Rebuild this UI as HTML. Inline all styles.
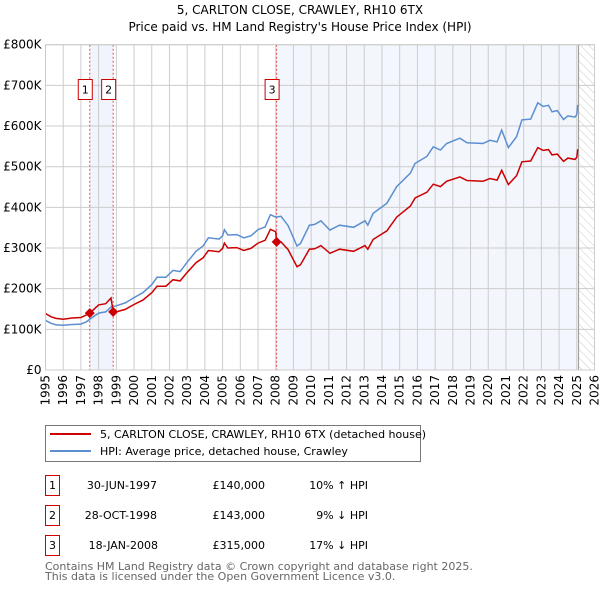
<!DOCTYPE html>
<html><head><meta charset="utf-8">
<style>
body{margin:0;background:#fff;}
svg{display:block;font-family:"DejaVu Sans","Liberation Sans",sans-serif;}
</style></head>
<body>
<svg id="chart" width="600" height="590" viewBox="0 0 600 590" xmlns="http://www.w3.org/2000/svg">
<text x="300" y="14" text-anchor="middle" font-size="12" fill="#000">5, CARLTON CLOSE, CRAWLEY, RH10 6TX</text>
<text x="300" y="31" text-anchor="middle" font-size="12" fill="#000">Price paid vs. HM Land Registry's House Price Index (HPI)</text>
<g id="plot"></g>
<g>
<rect x="45.5" y="425.5" width="375" height="36" fill="#fff" stroke="#777"/>
<line x1="50" y1="434" x2="91" y2="434" stroke="#cc0000" stroke-width="2"/>
<text x="100" y="438" font-size="11">5, CARLTON CLOSE, CRAWLEY, RH10 6TX (detached house)</text>
<line x1="50" y1="451" x2="91" y2="451" stroke="#5b8fd0" stroke-width="2"/>
<text x="100" y="455" font-size="11">HPI: Average price, detached house, Crawley</text>
</g>
<g font-size="11">
<rect x="45.5" y="475.5" width="14" height="20" fill="#fff" stroke="#cc0000"/>
<text x="52.5" y="489" text-anchor="middle">1</text>
<text x="157" y="489" text-anchor="end">30-JUN-1997</text>
<text x="265" y="489" text-anchor="end">£140,000</text>
<text x="368" y="489" text-anchor="end">10% ↑ HPI</text>
<rect x="45.5" y="505.5" width="14" height="20" fill="#fff" stroke="#cc0000"/>
<text x="52.5" y="519" text-anchor="middle">2</text>
<text x="157" y="519" text-anchor="end">28-OCT-1998</text>
<text x="265" y="519" text-anchor="end">£143,000</text>
<text x="368" y="519" text-anchor="end">9% ↓ HPI</text>
<rect x="45.5" y="535.5" width="14" height="20" fill="#fff" stroke="#cc0000"/>
<text x="52.5" y="549" text-anchor="middle">3</text>
<text x="158" y="549" text-anchor="end">18-JAN-2008</text>
<text x="265" y="549" text-anchor="end">£315,000</text>
<text x="368" y="549" text-anchor="end">17% ↓ HPI</text>
</g>
<text x="45" y="570" font-size="11" fill="#666">Contains HM Land Registry data © Crown copyright and database right 2025.</text>
<text x="45" y="580" font-size="11" fill="#666">This data is licensed under the Open Government Licence v3.0.</text>
</svg>
<script>
const hpiYears=[1995.0,1995.3,1995.6,1996.0,1996.5,1997.0,1997.3,1997.6,1998.0,1998.4,1998.7,1999.0,1999.5,2000.0,2000.5,2001.0,2001.3,2001.8,2002.2,2002.6,2003.0,2003.5,2003.9,2004.2,2004.8,2005.0,2005.1,2005.3,2005.8,2006.2,2006.6,2007.0,2007.4,2007.7,2008.0,2008.3,2008.7,2009.2,2009.4,2009.9,2010.2,2010.55,2011.06,2011.6,2012.4,2013.04,2013.2,2013.5,2014.27,2014.83,2015.6,2015.87,2016.53,2016.9,2017.3,2017.65,2018.4,2018.8,2019.7,2020.1,2020.5,2020.76,2021.14,2021.6,2021.9,2022.4,2022.8,2023.1,2023.4,2023.6,2023.9,2024.25,2024.5,2024.9,2025.0,2025.05];
const hpiValues=[122,115,111,110,112,113,118,128,140,143,155,158,165,178,190,210,228,228,245,242,265,292,305,325,322,330,345,332,333,325,330,345,352,382,376,378,355,305,311,356,358,367,344,356,351,367,356,385,410,451,484,508,525,549,541,557,570,559,557,565,561,590,547,574,615,617,657,648,651,635,638,616,625,622,628,652];
const propYears=[1995.0,1995.3,1995.6,1996.0,1996.5,1997.0,1997.3,1997.5,1998.0,1998.4,1998.7,1998.82,1999.0,1999.5,2000.0,2000.5,2001.0,2001.3,2001.8,2002.2,2002.6,2003.0,2003.5,2003.9,2004.2,2004.8,2005.0,2005.1,2005.3,2005.8,2006.2,2006.6,2007.0,2007.4,2007.7,2008.0,2008.05,2008.3,2008.7,2009.2,2009.4,2009.9,2010.2,2010.55,2011.06,2011.6,2012.4,2013.04,2013.2,2013.5,2014.27,2014.83,2015.6,2015.87,2016.53,2016.9,2017.3,2017.65,2018.4,2018.8,2019.7,2020.1,2020.5,2020.76,2021.14,2021.6,2021.9,2022.4,2022.8,2023.1,2023.4,2023.6,2023.9,2024.25,2024.5,2024.9,2025.0,2025.05];
const propValues=[139,131,127,125,128,129,135,140,160,163,177,143,143,149,161,172,190,206,206,222,219,240,264,276,294,291,299,312,300,301,294,299,312,319,346,340,315,315,296,254,259,297,298,306,287,297,292,306,297,321,342,376,403,423,437,457,451,464,475,466,464,471,467,491,456,478,512,514,547,540,542,529,531,513,521,518,523,543];
const saleLabels=["1","2","3"];
const saleYears=[1997.5,1998.82,2008.05];
const salePrices=[140,143,315];
const yTicks=[0,100,200,300,400,500,600,700,800];
const yTickLabels=["£0","£100K","£200K","£300K","£400K","£500K","£600K","£700K","£800K"];
const xTicks=[1995,1996,1997,1998,1999,2000,2001,2002,2003,2004,2005,2006,2007,2008,2009,2010,2011,2012,2013,2014,2015,2016,2017,2018,2019,2020,2021,2022,2023,2024,2025,2026];
const dataEnd=2025.1;

const NS="http://www.w3.org/2000/svg";
const X0=45.5,X1=594.5,Y0=370,Y1=44.7;
const xs=y=>X0+(y-1995)/(2026-1995)*(X1-X0);
const ys=v=>Y0-v/800*(Y0-Y1);
const plot=document.getElementById('plot');
function mk(tag,attrs,parent){const e=document.createElementNS(NS,tag);for(const k in attrs)e.setAttribute(k,attrs[k]);(parent||plot).appendChild(e);return e;}

let defs=mk('defs',{});
let pat=mk('pattern',{id:'hatch',width:'6',height:'6',patternUnits:'userSpaceOnUse',patternTransform:'rotate(-45)'},defs);
mk('line',{x1:'0',y1:'0',x2:'0',y2:'6',stroke:'#ccc','stroke-width':'1'},pat);

let bg=mk('rect',{x:X0,y:Y1,width:X1-X0,height:Y0-Y1,fill:'#fff'});


let sh1=mk('rect',{x:xs(saleYears[0]),y:Y1,width:xs(saleYears[1])-xs(saleYears[0]),height:Y0-Y1,fill:'#f0f4fc'});


let sh2=mk('rect',{x:xs(saleYears[2]),y:Y1,width:xs(dataEnd)-xs(saleYears[2]),height:Y0-Y1,fill:'#f3f6fd'});


let hz=mk('rect',{x:xs(dataEnd),y:Y1,width:X1-xs(dataEnd),height:Y0-Y1,fill:'url(#hatch)'});



yTicks.forEach((v,i)=>{
  let g=mk('line',{x1:X0,x2:X1,y1:ys(v),y2:ys(v),stroke:'#ccc','stroke-width':'1'});
  
  
  let t=mk('text',{x:X0-4,y:ys(v)+4,'text-anchor':'end','font-size':'12',fill:'#000'});
  t.textContent=yTickLabels[i];
  
  
});
xTicks.forEach(yr=>{
  let g=mk('line',{x1:xs(yr),x2:xs(yr),y1:Y1,y2:Y0,stroke:'#ccc','stroke-width':'1'});
  
  
  let t=mk('text',{x:0,y:0,'text-anchor':'end','font-size':'12',fill:'#000',transform:`translate(${xs(yr)+4},${Y0+5}) rotate(-90)`});
  t.textContent=String(yr);
  
  
});
let el=mk('line',{x1:xs(dataEnd),x2:xs(dataEnd),y1:Y1,y2:Y0,stroke:'#999','stroke-width':'1'});



saleYears.forEach((yr,i)=>{
  let l=mk('line',{x1:xs(yr),x2:xs(yr),y1:Y1,y2:Y0,stroke:'#e05050','stroke-width':'1','stroke-dasharray':'2,2'});
  
  
});

function path(xa,va){return xa.map((y,i)=>(i?'L':'M')+xs(y).toFixed(1)+','+ys(va[i]).toFixed(1)).join('');}
let hp=mk('path',{d:path(hpiYears,hpiValues),fill:'none',stroke:'#5b8fd0','stroke-width':'1.5'});


let pp=mk('path',{d:path(propYears,propValues),fill:'none',stroke:'#cc0000','stroke-width':'1.5'});



saleYears.forEach((yr,i)=>{
  let cx=xs(yr),cy=ys(salePrices[i]);
  let d=mk('path',{d:`M${cx},${cy-5}L${cx+5},${cy}L${cx},${cy+5}L${cx-5},${cy}Z`,fill:'#cc0000'});
  
  
  let bx=cx-4.5;
  let r=mk('rect',{x:bx-7,y:79.5,width:14,height:20,fill:'#fff',stroke:'#cc0000'});
  
  
  let t=mk('text',{x:bx,y:93.5,'text-anchor':'middle','font-size':'11',fill:'#000'});
  t.textContent=saleLabels[i];
  
  
});
let fr=mk('rect',{x:X0,y:Y1,width:X1-X0,height:Y0-Y1,fill:'none',stroke:'#ccc'});


</script>
</body></html>
